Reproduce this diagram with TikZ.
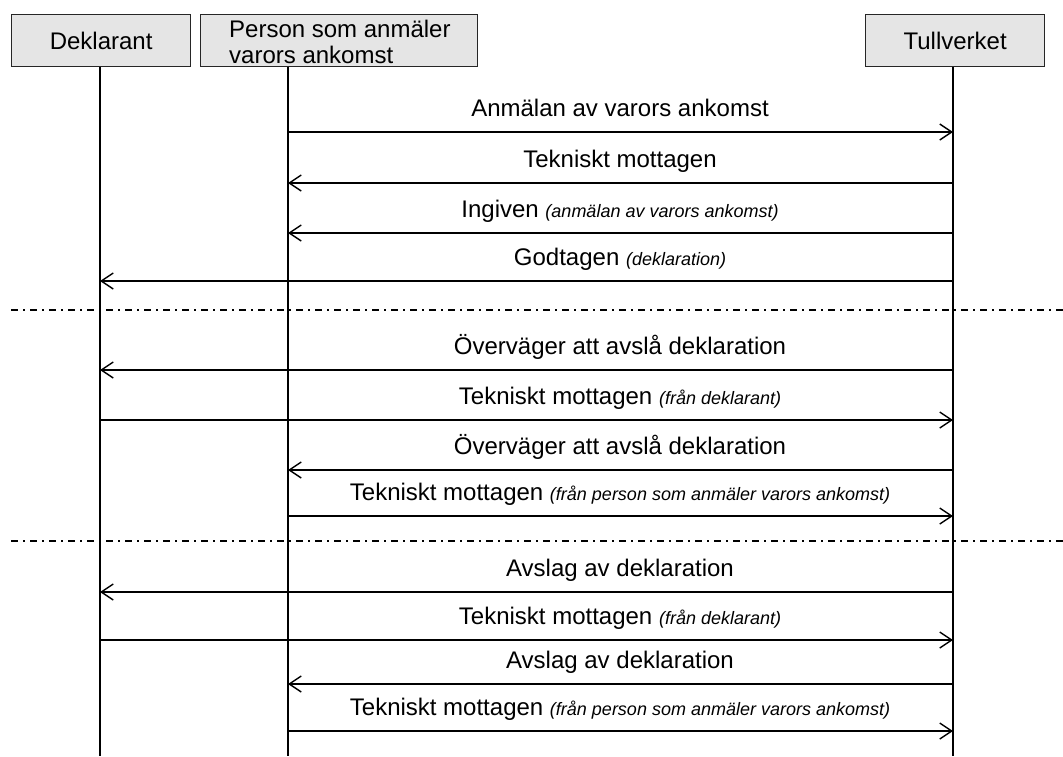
\documentclass[tikz,border=0pt]{standalone}
\usepackage{fontspec}
\setmainfont{Liberation Sans}
\usetikzlibrary{arrows.meta}
\begin{document}
\begin{tikzpicture}[x=1pt,y=-1pt,
  hdr/.style={draw=black!85,line width=1.3pt,fill=black!10,minimum height=52pt,inner sep=0pt,font=\fontsize{24}{26}\selectfont},
  life/.style={line width=1.6pt,black},
  msg/.style={line width=1.4pt,-{Straight Barb[length=12pt,width=16pt,line width=1.4pt]}},
  lbl/.style={font=\fontsize{24}{26}\selectfont,inner sep=0pt},
  sep/.style={line width=1.4pt,dash pattern=on 7pt off 5pt on 2pt off 5pt}]
\useasboundingbox (0,0) rectangle (1063,756);
\node[hdr,minimum width=179pt,anchor=north west] (hD) at (11,14) {Deklarant};
\node[hdr,minimum width=277pt,anchor=north west] (hP) at (200,14) {};
\node[lbl,anchor=north west,align=left,font=\fontsize{24}{26}\selectfont] (hPt) at (229,20) {Person som anmäler\\varors ankomst};
\node[hdr,minimum width=179pt,anchor=north west] (hT) at (865,14) {Tullverket};
\coordinate (eD) at (100,756);
\coordinate (eP) at (288,756);
\coordinate (eT) at (953,756);
\draw[life] (hD.south -| eD) -- (eD);
\draw[life] (hP.south -| eP) -- (eP);
\draw[life] (hT.south -| eT) -- (eT);
\newcommand{\sm}[1]{{\fontsize{18}{20}\selectfont\itshape #1}}
% separators
\coordinate (s1a) at (11,310); \coordinate (s1b) at (1063,310);
\coordinate (s2a) at (11,541); \coordinate (s2b) at (1063,541);
\draw[sep] (s1a) -- (s1b);
\draw[sep] (s2a) -- (s2b);
% messages: index/y/from/to/label
\foreach \i/\y/\f/\t/\txt in {
  1/132/P/T/{Anmälan av varors ankomst},
  2/183/T/P/{Tekniskt mottagen},
  3/233/T/P/{Ingiven \sm{(anmälan av varors ankomst)}},
  4/281/T/D/{Godtagen \sm{(deklaration)}},
  5/370/T/D/{Överväger att avslå deklaration},
  6/420/D/T/{Tekniskt mottagen \sm{(från deklarant)}},
  7/470/T/P/{Överväger att avslå deklaration},
  8/516/P/T/{Tekniskt mottagen \sm{(från person som anmäler varors ankomst)}},
  9/592/T/D/{Avslag av deklaration},
  10/640/D/T/{Tekniskt mottagen \sm{(från deklarant)}},
  11/684/T/P/{Avslag av deklaration},
  12/731/P/T/{Tekniskt mottagen \sm{(från person som anmäler varors ankomst)}}}{
  \coordinate (m\i a) at (e\f |- 0,\y);
  \coordinate (m\i b) at (e\t |- 0,\y);
  \draw[msg] (m\i a) -- (m\i b);
  \node[lbl,anchor=base] (l\i) at (620,\y-16) {\txt};
}
\end{tikzpicture}
\end{document}
